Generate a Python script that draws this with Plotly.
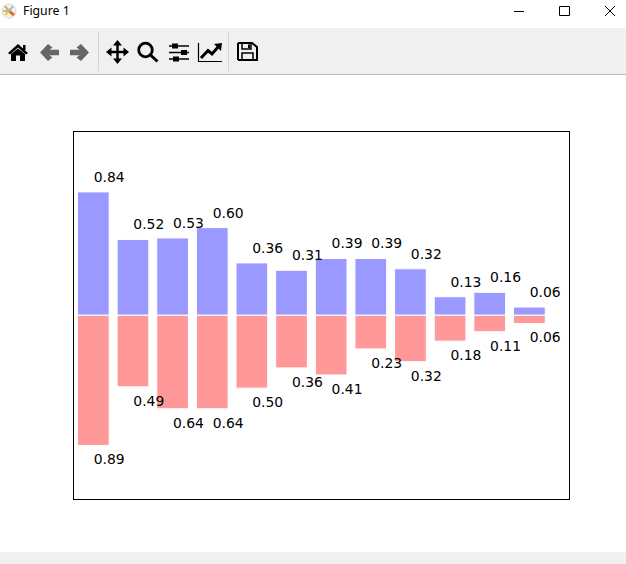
import numpy as np
import plotly.graph_objects as go

# values
up_vals = [0.839, 0.516, 0.526, 0.596, 0.356, 0.306, 0.386, 0.386, 0.316, 0.126, 0.156, 0.056]
down_vals = [0.886, 0.487, 0.636, 0.636, 0.496, 0.358, 0.406, 0.229, 0.316, 0.176, 0.112, 0.056]
window_title = 'Figure 1'

W, H = 626, 564
X = np.arange(len(up_vals))
up = np.array(up_vals)
down = np.array(down_vals)


def px_x(p):
    return p/W


def px_y(p):
    return 1-p/H


def path(points, close=True):
    # points are window pixels, shapes want paper fractions
    s = 'M ' + ' L '.join('%.5f,%.5f' % (px_x(a), px_y(b)) for a, b in points)
    return s + (' Z' if close else '')


shapes = []


def rect(x0, y0, x1, y1, fill=None, line=None, lw=0):
    shapes.append(dict(type='rect', xref='paper', yref='paper', x0=px_x(x0), x1=px_x(x1), y0=px_y(y0), y1=px_y(y1),
                       fillcolor=fill, line=dict(color=line, width=lw), layer='below' if fill == '#f0f0f0' else 'above'))


def poly(points, fill):
    shapes.append(dict(type='path', xref='paper', yref='paper', path=path(points), fillcolor=fill, line=dict(width=0)))


def stroke(points, color='black', lw=2):
    shapes.append(dict(type='path', xref='paper', yref='paper', path=path(points, close=False), line=dict(color=color, width=lw)))


def circle(cx, cy, r, fill=None, line='black', lw=0):
    shapes.append(dict(type='circle', xref='paper', yref='paper', x0=px_x(cx-r), x1=px_x(cx+r), y0=px_y(cy+r), y1=px_y(cy-r),
                       fillcolor=fill, line=dict(color=line, width=lw)))


# ------------------------
# window chrome
rect(0, 28, W, 74, fill='#f0f0f0')
rect(0, 74, W, 75, fill='#bdbdbd')
rect(0, 552, W, H, fill='#f0f0f0')
rect(98, 32, 99, 71, fill='#d4d4d4')
rect(228, 32, 229, 71, fill='#d4d4d4')

# title bar icon
circle(9, 11, 7, fill='#f4f1ee', line='#d8d8d8', lw=1)
stroke([(9, 11), (5, 6)], '#e8a04a', 2)
stroke([(9, 11), (14, 15)], '#ee6a22', 3)
stroke([(9, 11), (13, 6)], '#7fc4d8', 2)
stroke([(9, 11), (5, 15)], '#f2c24c', 2)
stroke([(3, 11), (9, 11)], '#9ccf7a', 2)

# min / max / close
stroke([(514, 11.5), (524, 11.5)], 'black', 1)
rect(559.5, 6.5, 569.5, 15.5, line='black', lw=1)
stroke([(605, 6), (615, 16)], 'black', 1)
stroke([(615, 6), (605, 16)], 'black', 1)

# home
poly([(8, 53), (18, 44), (28, 53), (26, 54.5), (18, 47.5), (10, 54.5)], 'black')
poly([(11, 54), (18, 48.5), (25, 54), (25, 61), (20, 61), (20, 55.5), (16, 55.5), (16, 61), (11, 61)], 'black')
rect(23, 45, 25.5, 50, fill='black')

# back / forward
ARROW = '#666666'
poly([(40, 52.5), (48, 44), (52.5, 47.5), (49.5, 49.7), (59, 49.7), (59, 55.3), (49.5, 55.3), (52.5, 57.5), (48, 61)], ARROW)
poly([(89, 52.5), (81, 44), (76.5, 47.5), (79.5, 49.7), (70, 49.7), (70, 55.3), (79.5, 55.3), (76.5, 57.5), (81, 61)], ARROW)

# move
stroke([(108, 52), (127, 52)], 'black', 2.5)
stroke([(117.5, 43), (117.5, 62)], 'black', 2.5)
poly([(117.5, 40), (122, 45.5), (113, 45.5)], 'black')
poly([(117.5, 64), (122, 58.5), (113, 58.5)], 'black')
poly([(106, 52), (111.5, 47.5), (111.5, 56.5)], 'black')
poly([(129, 52), (123.5, 47.5), (123.5, 56.5)], 'black')

# zoom
circle(145.5, 50, 6.8, line='black', lw=2.8)
stroke([(150.5, 55), (157.5, 61.5)], 'black', 3)

# sliders
for yy, kx in [(46, 175), (52.5, 184), (59, 176)]:
    stroke([(169, yy), (189, yy)], 'black', 1.5)
    rect(kx-3, yy-2.5, kx+3, yy+2.5, fill='black')

# chart
stroke([(198.5, 43), (198.5, 61.5), (222, 61.5)], 'black', 1.2)
stroke([(201, 58), (208, 50.5), (212, 54), (219, 46)], 'black', 3)
poly([(214, 44), (222, 43), (221, 51)], 'black')

# save
stroke([(238, 43), (252, 43), (257, 47), (257, 60), (238, 60)], 'black', 2)
stroke([(238, 43), (238, 60)], 'black', 2)
rect(242, 43, 251, 49, line='black', lw=1.5)
rect(248, 44.5, 250, 48, fill='black')
rect(242, 53, 253, 60, line='black', lw=1.5)

# ------------------------
# Create traces
fig = go.Figure()
fig.add_trace(go.Bar(x=X, y=up, width=0.8, marker=dict(color='#9999ff', line=dict(color='white', width=1))))
fig.add_trace(go.Bar(x=X, y=-down, width=0.8, marker=dict(color='#ff9999', line=dict(color='white', width=1))))
fig.add_trace(go.Scatter(x=X+0.4, y=up+0.045, mode='text', text=['%.2f' % v for v in up], textposition='top center',
                         textfont=dict(family='DejaVu Sans', size=13.9, color='black'), cliponaxis=False))
fig.add_trace(go.Scatter(x=X+0.4, y=-down-0.057, mode='text', text=['%.2f' % v for v in down], textposition='bottom center',
                         textfont=dict(family='DejaVu Sans', size=13.9, color='black'), cliponaxis=False))

# Edit the layout
fig.update_layout(
    width=W, height=H, autosize=False, margin=dict(l=0, r=0, t=0, b=0, pad=0),
    paper_bgcolor='white', plot_bgcolor='white', showlegend=False, barmode='overlay',
    shapes=shapes,
    annotations=[dict(text=window_title, xref='paper', yref='paper', x=px_x(20.5), y=px_y(11), xanchor='left', yanchor='middle',
                      showarrow=False, font=dict(family='Noto Sans', size=12.3, color='black'))],
)
fig.update_xaxes(domain=[73.5/W, 569/W], range=[-0.5, 12], showticklabels=False, ticks='', showgrid=False,
                 zeroline=False, showline=True, mirror=True, linecolor='black', linewidth=1)
fig.update_yaxes(domain=[1-499/H, 1-131.5/H], range=[-1.25, 1.25], showticklabels=False, ticks='', showgrid=False,
                 zeroline=False, showline=True, mirror=True, linecolor='black', linewidth=1)
fig.write_html('out.html', config=dict(displayModeBar=False), post_script="document.body.style.margin='0';")
